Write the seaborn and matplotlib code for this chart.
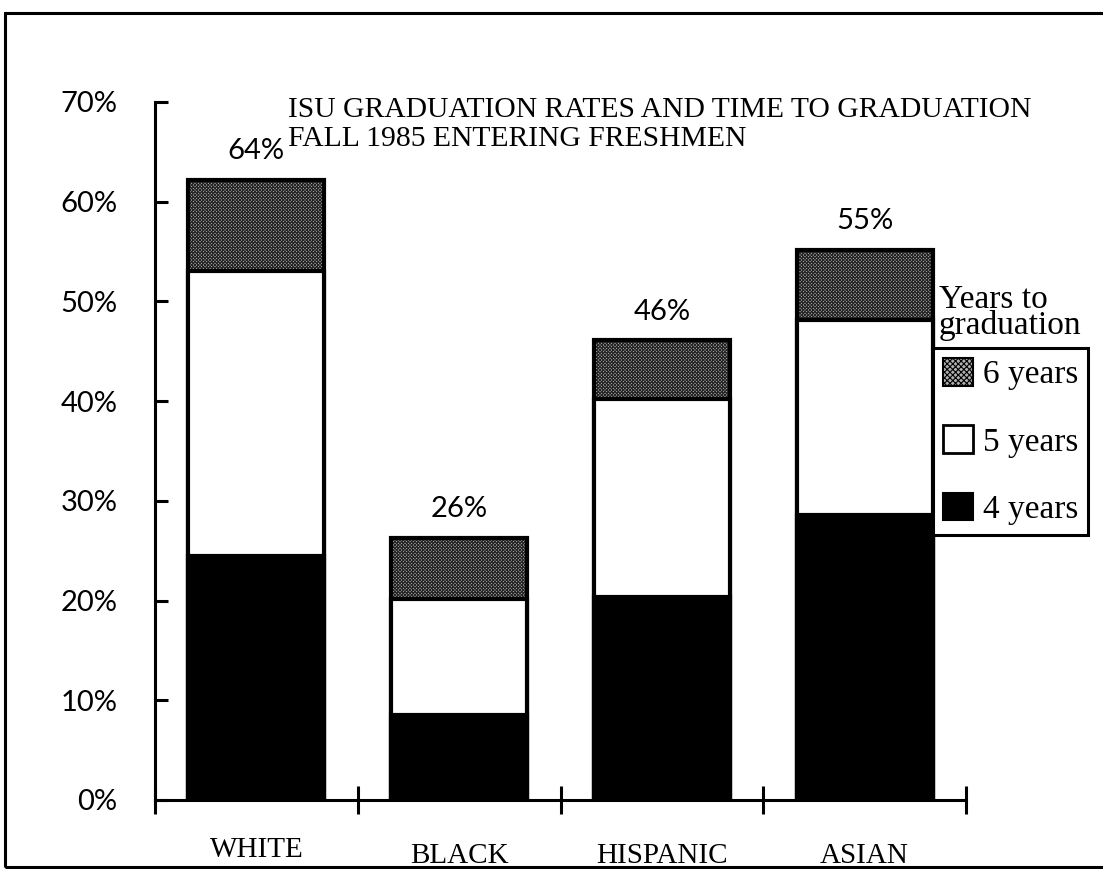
import matplotlib
matplotlib.use("Agg")
import matplotlib.pyplot as plt
import matplotlib.transforms as mtrans
from matplotlib.patches import Patch, Rectangle
import seaborn as sns
import pandas as pd

# ---------------- data ----------------
categories = ["WHITE", "BLACK", "HISPANIC", "ASIAN"]
four_years = [24.5, 8.5, 20.4, 28.6]
five_years = [28.6, 11.7, 19.8, 19.5]
six_years = [9.1, 6.1, 5.9, 7.1]
total_labels = ["64%", "26%", "46%", "55%"]
legend_labels = ["6 years", "5 years", "4 years"]
ytick_values = [0, 10, 20, 30, 40, 50, 60, 70]
ytick_labels = ["0%", "10%", "20%", "30%", "40%", "50%", "60%", "70%"]
title_lines = ["ISU GRADUATION RATES AND TIME TO GRADUATION",
               "FALL 1985 ENTERING FRESHMEN"]
legend_title = "Years to\ngraduation"

# ---------------- style ----------------
sns.set_theme(style="white")
plt.rcParams["font.family"] = ["Liberation Serif", "DejaVu Serif"]
plt.rcParams["hatch.linewidth"] = 0.8
SANS = ["Lato", "DejaVu Sans"]

W, H = 1103, 869
fig = plt.figure(figsize=(W / 100, H / 100), dpi=100)
fig.patch.set_facecolor("white")
ax = fig.add_axes([155 / W, 1 - 800 / H, (966 - 155) / W, (800 - 102) / H])
ax.set_facecolor("white")

df = pd.DataFrame({"group": categories, "four": four_years,
                   "five": five_years, "six": six_years})
df["cum5"] = df["four"] + df["five"]
df["cum6"] = df["cum5"] + df["six"]

GRAY = "#b0b0b0"
HATCH = "xxxxxxxxxx"
LW = 3.0
BW = 0.67

# stippled 6-year layer (thin hatch), then its thick outline
sns.barplot(data=df, x="group", y="cum6", color=GRAY, saturation=1,
            edgecolor="#222222", linewidth=0.8, hatch=HATCH, width=BW, ax=ax,
            errorbar=None)
sns.barplot(data=df, x="group", y="cum6", color="black", fill=False,
            linewidth=LW, width=BW, ax=ax, errorbar=None)
sns.barplot(data=df, x="group", y="cum5", color="white", saturation=1,
            edgecolor="black", linewidth=LW, width=BW, ax=ax, errorbar=None)
sns.barplot(data=df, x="group", y="four", color="black", saturation=1,
            edgecolor="black", linewidth=LW, width=BW, ax=ax, errorbar=None)

# axes
ax.set_xlim(-0.5, 3.5)
ax.set_ylim(0, 70)
ax.set_xlabel("")
ax.set_ylabel("")
for s in ["top", "right"]:
    ax.spines[s].set_visible(False)
for s in ["left", "bottom"]:
    ax.spines[s].set_color("black")
    ax.spines[s].set_linewidth(2.2)

ax.set_yticks(ytick_values)
ax.set_yticklabels(ytick_labels, family=SANS)
ax.tick_params(axis="y", direction="in", length=9, width=2.2, pad=27,
               labelsize=21, colors="black", left=True)

ax.set_xticks(range(len(categories)))
ax.set_xticklabels(categories)
ax.set_xticks([-0.5, 0.5, 1.5, 2.5, 3.5], minor=True)
ax.tick_params(axis="x", which="major", length=0, pad=31, labelsize=21,
               colors="black")
ax.tick_params(axis="x", which="minor", direction="inout", length=20,
               width=2.2, color="black", bottom=True)
# WHITE label a little higher
lbl0 = ax.get_xticklabels()[0]
lbl0.set_transform(lbl0.get_transform() +
                   mtrans.ScaledTranslation(0, 6 / 100, fig.dpi_scale_trans))

# totals above bars
for i, (tot, lab) in enumerate(zip(df["cum6"], total_labels)):
    ax.annotate(lab, (i, tot), xytext=(0, 11), textcoords="offset points",
                ha="center", va="bottom", fontsize=21, family=SANS,
                color="black")

# title
fig.text(288 / W, 1 - 117 / H, title_lines[0], ha="left", va="baseline",
         fontsize=21.3, color="black")
fig.text(288 / W, 1 - 146 / H, title_lines[1], ha="left", va="baseline",
         fontsize=21.3, color="black")

# legend title (outside the box, above it)
fig.text(939 / W, 1 - 334 / H, legend_title, ha="left", va="baseline",
         fontsize=24, color="black", linespacing=0.78)
handles = [Patch(facecolor=GRAY, edgecolor="black", hatch="xxxxxx",
                 linewidth=1.5),
           Patch(facecolor="white", edgecolor="black", linewidth=2.0),
           Patch(facecolor="black", edgecolor="black", linewidth=1.5)]
leg = ax.legend(handles, legend_labels, loc="upper left",
                bbox_to_anchor=(933 / W, 1 - 348 / H),
                bbox_transform=fig.transFigure, frameon=True, fancybox=False,
                edgecolor="black", framealpha=1, borderaxespad=0,
                borderpad=0.3, handlelength=0.9, handleheight=0.9,
                handletextpad=0.3, labelspacing=1.05, fontsize=24)
leg.get_frame().set_linewidth(2.2)
for t in leg.get_texts():
    t.set_color("black")

# outer frame (cropped on the right)
fig.add_artist(Rectangle((5 / W, 1 - 867 / H), 1.5, (867 - 13) / H,
                         transform=fig.transFigure, fill=False,
                         edgecolor="black", linewidth=2.2, clip_on=False))

fig.savefig("out.png", dpi=100, facecolor="white")
